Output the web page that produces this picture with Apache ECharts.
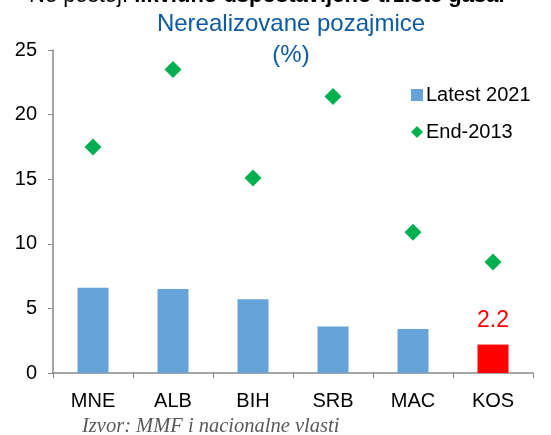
<!DOCTYPE html>
<html><head><meta charset="utf-8">
<script src="https://cdn.jsdelivr.net/npm/echarts@6/dist/echarts.min.js"></script>
<style>html,body{margin:0;padding:0;background:#fff;}#c{width:551px;height:435px;}</style>
</head><body><div id="c"></div>
<script>
const categories = ['MNE','ALB','BIH','SRB','MAC','KOS'];
const latest2021 = [6.6, 6.5, 5.7, 3.6, 3.4, 2.2];
const end2013 = [17.5, 23.5, 15.1, 21.4, 10.9, 8.6];
const yTicks = [0, 5, 10, 15, 20, 25];
const highlightCategory = 'KOS';

const chart = echarts.init(document.getElementById('c'));
const font = 'Liberation Sans, Arial, sans-serif';
chart.setOption({
  animation: false,
  backgroundColor: '#fff',
  title: {
    text: 'Nerealizovane pozajmice\n(%)',
    left: 286, top: 4, textAlign: 'center',
    textStyle: {color: '#0B5AA2', fontSize: 24, fontWeight: 'normal', fontFamily: font, lineHeight: 31}
  },
  graphic: [
    {type: 'text', left: 29, top: -15, style: {text: '{n|Ne postoj: }{b|likvidno uspostavljeno tržište gasa.}', rich: {
      n: {fontSize: 22, fontFamily: font, fill: '#000'},
      b: {fontSize: 22, fontFamily: font, fontWeight: 'bold', fill: '#000'}
    }}},
    {type: 'text', left: 82, top: 417, style: {text: 'Izvor: MMF i nacionalne vlasti', font: 'italic 20.5px "Liberation Serif", "DejaVu Serif", serif', fill: '#595959'}}
  ],
  legend: {
    orient: 'vertical', left: 406, top: 80, itemGap: 17,
    itemWidth: 12, itemHeight: 12,
    textStyle: {fontSize: 20, fontFamily: font, color: '#000', padding: [0,0,0,-2]},
    data: [
      {name: 'Latest 2021', icon: 'rect', itemStyle: {color: '#65A3D9'}},
      {name: 'End-2013', icon: 'diamond', itemStyle: {color: '#00B050'}}
    ]
  },
  grid: {left: 53, right: 18, top: 50, bottom: 62},
  xAxis: {
    type: 'category', data: categories,
    axisLine: {lineStyle: {color: '#898989', width: 1.5}},
    axisTick: {show: true, length: 5, lineStyle: {color: '#898989'}},
    axisLabel: {fontSize: 20, fontFamily: font, color: '#000', margin: 18}
  },
  yAxis: {
    type: 'value', min: yTicks[0], max: yTicks[yTicks.length-1], interval: 5,
    axisLine: {show: true, lineStyle: {color: '#898989', width: 1.5}},
    axisTick: {show: true, length: 5, lineStyle: {color: '#898989'}},
    splitLine: {show: false},
    axisLabel: {fontSize: 20, fontFamily: font, color: '#000', margin: 16}
  },
  series: [
    {
      name: 'Latest 2021', type: 'bar', barWidth: 31,
      itemStyle: {color: '#65A3D9'},
      data: latest2021.map((v, i) => categories[i] === highlightCategory ? {
        value: v, itemStyle: {color: '#FF0000'},
        label: {show: true, position: 'top', distance: 12, color: '#FF0000', fontSize: 23, fontFamily: font}
      } : v)
    },
    {
      name: 'End-2013', type: 'scatter', symbol: 'diamond', symbolSize: 17,
      itemStyle: {color: '#00B050', opacity: 1},
      data: end2013
    }
  ]
});
</script></body></html>
